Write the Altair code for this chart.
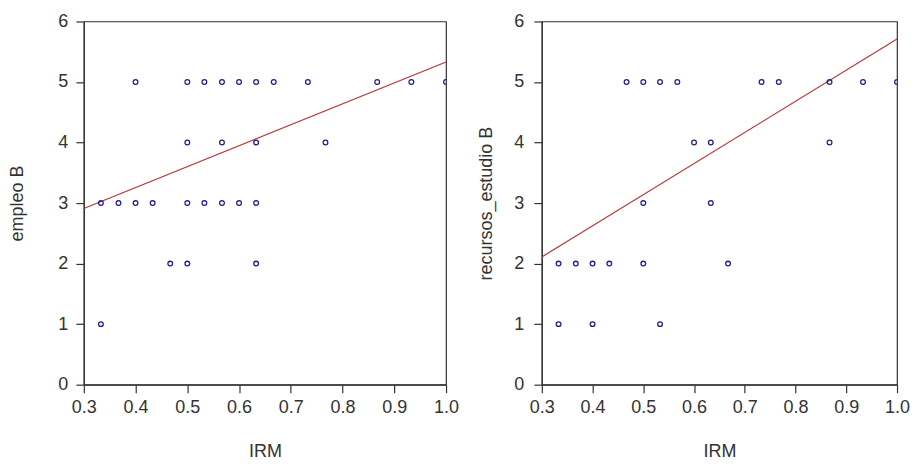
import altair as alt
import pandas as pd

# Left panel: IRM vs empleo B
left_irm = [0.400, 0.500, 0.533, 0.567, 0.600, 0.633, 0.667, 0.733, 0.867, 0.933, 1.000,
            0.500, 0.567, 0.633, 0.767,
            0.333, 0.367, 0.400, 0.433, 0.500, 0.533, 0.567, 0.600, 0.633,
            0.467, 0.500, 0.633,
            0.333]
left_empleo = [5, 5, 5, 5, 5, 5, 5, 5, 5, 5, 5,
               4, 4, 4, 4,
               3, 3, 3, 3, 3, 3, 3, 3, 3,
               2, 2, 2,
               1]
left_fit_x = [0.3, 1.0]
left_fit_y = [2.91, 5.33]

# Right panel: IRM vs recursos_estudio B
right_irm = [0.467, 0.500, 0.533, 0.567, 0.733, 0.767, 0.867, 0.933, 1.000,
             0.600, 0.633, 0.867,
             0.500, 0.633,
             0.333, 0.367, 0.400, 0.433, 0.500, 0.667,
             0.333, 0.400, 0.533]
right_recursos = [5, 5, 5, 5, 5, 5, 5, 5, 5,
                  4, 4, 4,
                  3, 3,
                  2, 2, 2, 2, 2, 2,
                  1, 1, 1]
right_fit_x = [0.3, 1.0]
right_fit_y = [2.11, 5.71]

x_ticks = [0.3, 0.4, 0.5, 0.6, 0.7, 0.8, 0.9, 1.0]
y_ticks = [0, 1, 2, 3, 4, 5, 6]

FONT = "Liberation Sans"
POINT_COLOR = "#1f1f8f"
LINE_COLOR = "#b8343c"


def panel(xs, ys, fx, fy, ytitle, w, h, ytitle_pad, ylabel_pad):
    xenc = alt.X("x:Q",
                 scale=alt.Scale(domain=[0.3, 1.0], nice=False, zero=False),
                 axis=alt.Axis(title="IRM", values=x_ticks, format=".1f",
                               labelFlush=False, tickSize=8, labelPadding=6,
                               titlePadding=26, grid=False))
    yenc = alt.Y("y:Q",
                 scale=alt.Scale(domain=[0, 6], nice=False),
                 axis=alt.Axis(title=ytitle, values=y_ticks, format="d",
                               tickSize=8, labelPadding=ylabel_pad,
                               titlePadding=ytitle_pad, grid=False))
    line = alt.Chart(pd.DataFrame({"x": fx, "y": fy})).mark_line(
        color=LINE_COLOR, strokeWidth=1.2
    ).encode(x=xenc, y=yenc)
    pts = alt.Chart(pd.DataFrame({"x": xs, "y": ys})).mark_point(
        shape="circle", filled=False, color=POINT_COLOR, size=22,
        strokeWidth=1.3, opacity=1, clip=True
    ).encode(x=xenc, y=yenc)
    return alt.layer(line, pts).properties(width=w, height=h)


left = panel(left_irm, left_empleo, left_fit_x, left_fit_y, "empleo B",
             363, 364, 31, 8)
right = panel(right_irm, right_recursos, right_fit_x, right_fit_y,
              "recursos_estudio B", 356, 364, 18, 10)

chart = alt.hconcat(left, right, spacing=17).properties(
    padding={"left": 0, "right": 0, "top": 3, "bottom": 0}
).configure(
    background="white"
).configure_view(
    stroke="#333333", strokeWidth=1.2
).configure_axis(
    labelFont=FONT, titleFont=FONT, labelFontSize=18, titleFontSize=18,
    titleFontWeight="normal", labelColor="#333333", titleColor="#333333",
    domainColor="#333333", tickColor="#333333", domainWidth=1.2, tickWidth=1.2
)

chart.save("out.html", embed_options={"renderer": "svg", "actions": False})
